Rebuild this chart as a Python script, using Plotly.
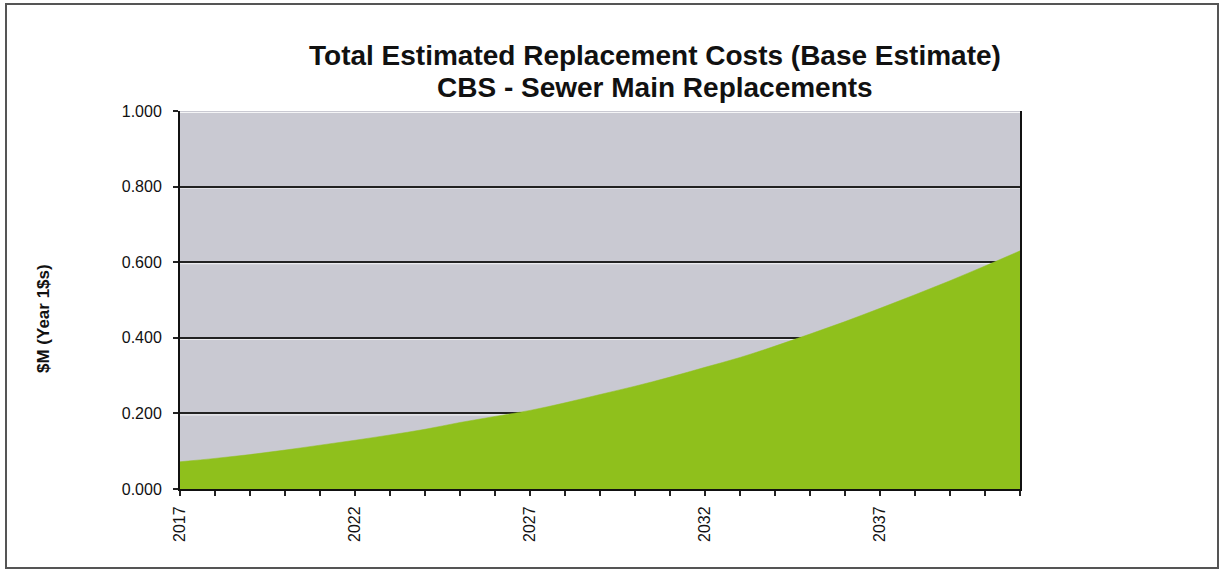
import plotly.graph_objects as go

years = list(range(2017, 2042))
costs = [0.072, 0.081, 0.091, 0.103, 0.116, 0.129, 0.143, 0.158, 0.176, 0.192,
         0.208, 0.228, 0.250, 0.272, 0.296, 0.322, 0.348, 0.378, 0.410, 0.443,
         0.478, 0.514, 0.551, 0.590, 0.630]
y_ticks = [0.0, 0.2, 0.4, 0.6, 0.8, 1.0]
y_ticklabels = ["0.000", "0.200", "0.400", "0.600", "0.800", "1.000"]
x_ticks = [2017, 2022, 2027, 2032, 2037]
title_line1 = "Total Estimated Replacement Costs (Base Estimate)"
title_line2 = "CBS - Sewer Main Replacements"
y_title = "$M (Year 1$s)"

W, H = 1223, 571
L, R, T, B = 180, 1020, 111, 489

fig = go.Figure()
fig.add_trace(go.Scatter(
    x=years, y=costs, mode="lines", fill="tozeroy",
    line=dict(color="#8fc01c", width=0.5, shape="spline"),
    fillcolor="#8fc01c", hoverinfo="x+y", showlegend=False))

def px_x(p):
    return (p - L) / (R - L)

def px_y(p):
    return (B - p) / (B - T)

shapes = []
# white highlight lines just under the gridlines
for v in y_ticks[1:]:
    shapes.append(dict(type="line", xref="paper", yref="y", x0=0, x1=1,
                       y0=v - 0.004, y1=v - 0.004, layer="below",
                       line=dict(color="rgba(255,255,255,0.8)", width=1)))
# outer frame
shapes.append(dict(type="rect", xref="paper", yref="paper",
                   x0=px_x(6), x1=px_x(1218), y0=px_y(568), y1=px_y(4),
                   line=dict(color="#555555", width=2), layer="above"))

fig.update_layout(
    width=W, height=H,
    margin=dict(l=L, r=W - R, t=T, b=H - B, pad=0),
    paper_bgcolor="white",
    plot_bgcolor="#c9c9d2",
    font=dict(family="Liberation Sans, Arial, sans-serif", color="#111111"),
    showlegend=False,
    shapes=shapes,
    annotations=[
        dict(text="<b>" + title_line1 + "</b>", xref="paper", yref="paper",
             x=px_x(655), y=px_y(55), showarrow=False, xanchor="center", yanchor="middle",
             font=dict(size=28, color="#111111")),
        dict(text="<b>" + title_line2 + "</b>", xref="paper", yref="paper",
             x=px_x(655), y=px_y(88), showarrow=False, xanchor="center", yanchor="middle",
             font=dict(size=28, color="#111111")),
        dict(text="<b>" + y_title + "</b>", xref="paper", yref="paper",
             x=px_x(43), y=px_y(319), showarrow=False, textangle=-90,
             xanchor="center", yanchor="middle",
             font=dict(size=17, color="#111111")),
    ],
)

fig.update_xaxes(
    range=[2017, 2041], tickmode="array", tickvals=x_ticks,
    ticktext=[str(v) for v in x_ticks], tickangle=-90,
    ticks="outside", ticklen=5, tickcolor="#222222", tickwidth=1.5,
    minor=dict(dtick=1, tick0=2017, ticks="outside", ticklen=5,
               tickcolor="#222222", tickwidth=1.5, showgrid=False),
    showgrid=False, zeroline=False, showline=True, linecolor="#111111", linewidth=2,
    tickfont=dict(size=16, color="#111111"), ticklabelstandoff=4,
)
fig.update_yaxes(
    range=[0, 1.0], tickmode="array", tickvals=y_ticks, ticktext=y_ticklabels,
    ticks="outside", ticklen=5, tickcolor="#222222", tickwidth=1.5,
    showgrid=True, gridcolor="#222222", gridwidth=1.5,
    zeroline=False, showline=True, linecolor="#111111", linewidth=2, mirror=True,
    tickfont=dict(size=16, color="#111111"), ticklabelstandoff=8,
)

fig.write_html("out.html", config={"displayModeBar": False},
               post_script="document.body.style.margin='0px';document.body.style.overflow='hidden';")
